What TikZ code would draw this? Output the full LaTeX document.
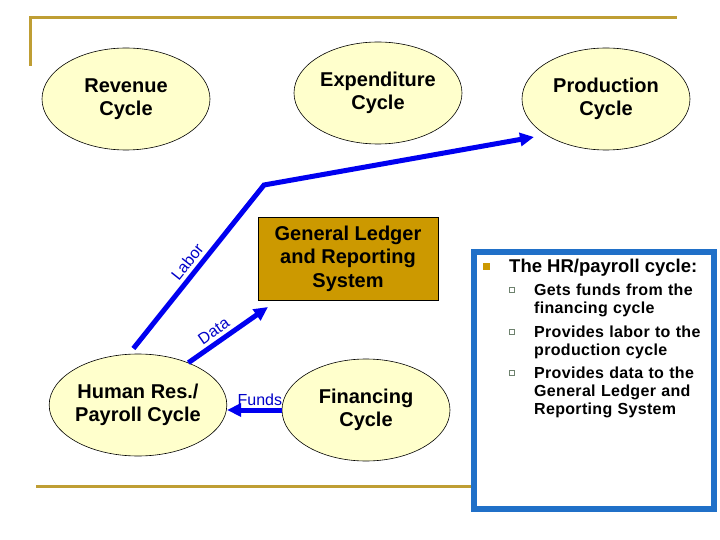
\documentclass[tikz,border=0pt]{standalone}
\usepackage{fontspec}
\setmainfont{Liberation Sans}
\newfontfamily\spacedfont{Liberation Sans}[LetterSpace=2]
\usetikzlibrary{arrows.meta,shapes.geometric}
\definecolor{cyclefill}{RGB}{255,255,204}
\definecolor{ledger}{RGB}{204,153,0}
\definecolor{gold}{RGB}{191,158,52}
\definecolor{boxblue}{RGB}{32,112,200}
\definecolor{flowblue}{RGB}{0,0,240}
\definecolor{labelblue}{RGB}{0,0,200}
\definecolor{subbullet}{RGB}{110,130,110}
\tikzset{
  cycle/.style={ellipse, draw=black, line width=0.6pt, fill=cyclefill,
    minimum width=168pt, minimum height=102pt, inner sep=0pt, align=center,
    font=\fontsize{20}{23.5}\selectfont\bfseries},
  ledgerbox/.style={rectangle, draw=black, line width=0.6pt, fill=ledger,
    minimum width=180pt, minimum height=83pt, inner sep=0pt, align=center,
    font=\fontsize{20}{23.5}\selectfont\bfseries},
  flow/.style={flowblue, line width=5pt,
    -{Triangle[length=14pt,width=13pt]}},
  lbl/.style={labelblue, font=\fontsize{16}{18}\selectfont, inner sep=1pt},
  goldline/.style={gold, line width=3pt},
  subitem/.style={anchor=base west, text width=185pt, align=left,
    inner sep=0pt, font=\spacedfont\fontsize{16}{18}\selectfont\bfseries}
}
\begin{document}
\begin{tikzpicture}[x=1pt,y=-1pt]
    \useasboundingbox (0,0) rectangle (720,540);
    % frame lines
    \draw[goldline] (30,66) -- (30,18) -- (677,18);
    \draw[goldline] (36,486) -- (474,486);
    % cycles
    \node[cycle] (rev) at (126,99) {Revenue\\Cycle};
    \node[cycle] (exp) at (378,93) {Expenditure\\Cycle};
    \node[cycle] (prod) at (606,99) {Production\\Cycle};
    \node[cycle] (hr) at (138,405) {Human Res./\\Payroll Cycle};
    \node[cycle] (fin) at (366,410) {Financing\\Cycle};
    \node[ledgerbox] (gl) at (348,258.5) {General Ledger\\and Reporting\\System};
    % flows out of the HR cycle
    \coordinate (lbend) at (264,185);
    \coordinate (labortip) at (534,137);
    \coordinate (datatip) at (268,307);
    \draw[flow, shorten <=7pt] (hr.100) -- node[lbl, sloped, above=2.5pt] {Labor} (lbend) -- (labortip);
    \draw[flow] (hr.40) -- node[lbl, sloped, above=2.5pt, pos=0.4] {Data} (datatip);
    \draw[flow] (fin.west) -- node[lbl, above=1pt, pos=0.4] {Funds} (fin.west -| hr.east);
    % text box
    \node[draw=boxblue, line width=6pt, fill=white, minimum width=240pt,
      minimum height=257pt, inner sep=0pt] (info) at (594,380.5) {};
    \node[fill=ledger, minimum size=7pt, inner sep=0pt] (dot) at (486,266) {};
    \node[anchor=base west, inner sep=0pt, font=\fontsize{18.5}{21}\selectfont\bfseries]
      (head) at (509,272) {The HR/payroll cycle:};
    \foreach \y/\txt [count=\i] in {295/{Gets funds from the financing cycle},
        337/{Provides labor to the production cycle},
        378/{Provides data to the General Ledger and Reporting System}} {
      \node[draw=subbullet, line width=0.7pt, minimum size=5.5pt, inner sep=0pt]
        (sq\i) at (512,\y-5) {};
      \node[subitem, text width=180pt] (item\i) at (534,\y) {\txt};
    }
\end{tikzpicture}
\end{document}
